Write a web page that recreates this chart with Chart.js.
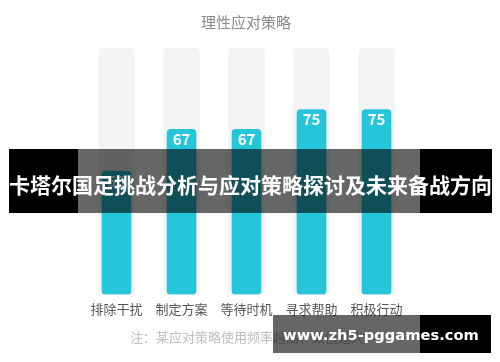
<!doctype html>
<html lang="zh">
<head>
  <meta charset="utf-8" />
  <title>理性应对策略</title>
  <script src="https://cdn.jsdelivr.net/npm/chart.js@4.4.1/dist/chart.umd.min.js"></script>
  <style>
    *{box-sizing:border-box;margin:0;padding:0}
    html,body{width:500px;height:362px;background:#fff;overflow:hidden}
    #wrap{width:500px;height:362px;position:relative}
  </style>
</head>
<body>
  <div id="wrap"><canvas id="c"></canvas></div>
  <script>
    /* ===== データ ===== */
    const categories = ['排除干扰', '制定方案', '等待时机', '寻求帮助', '积极行动'];
    const values = [50, 67, 67, 75, 75];
    const trackValues = [100, 100, 100, 100, 100];
    const titleText = '理性应对策略';
    const noteText = '注：某应对策略使用频率越高，数值越大';
    const bannerText = '卡塔尔国足挑战分析与应对策略探讨及未来备战方向';
    const watermarkText = 'www.zh5-pggames.com';

    const FONT = '"Noto Sans CJK SC","Noto Sans",sans-serif';
    const CYAN = '#26C6DA';

    /* ===== 数値ラベル + テキスト + オーバーレイ ===== */
    const decor = {
      id: 'decor',
      afterDatasetsDraw(chart){
        const ctx = chart.ctx;
        const meta = chart.getDatasetMeta(0);
        ctx.save();
        ctx.fillStyle = '#fff';
        ctx.font = 'bold 15px ' + FONT;
        ctx.textAlign = 'center';
        ctx.textBaseline = 'middle';
        meta.data.forEach((bar, i) => {
          ctx.fillText(String(values[i]), bar.x, bar.y + 10);
        });
        ctx.restore();
      },
      afterDraw(chart){
        const ctx = chart.ctx;
        ctx.save();
        ctx.textAlign = 'center';
        ctx.textBaseline = 'middle';
        // title
        ctx.fillStyle = '#8a8a8a';
        ctx.font = '15px ' + FONT;
        ctx.fillText(titleText, 246, 22);
        // note
        ctx.fillStyle = '#bdbdbd';
        ctx.font = '13px ' + FONT;
        ctx.fillText(noteText, 247, 337);

        // banner
        ctx.fillStyle = '#000';
        ctx.fillRect(9, 149, 69, 64);
        ctx.fillRect(420, 149, 72, 64);
        ctx.fillStyle = 'rgba(0,0,0,0.6)';
        ctx.fillRect(78, 149, 342, 64);
        ctx.fillStyle = '#fff';
        ctx.font = 'bold 21px ' + FONT;
        ctx.fillText(bannerText, 250.5, 185);

        // watermark
        ctx.fillStyle = 'rgba(0,0,0,0.6)';
        ctx.fillRect(273, 315, 147, 38);
        ctx.fillStyle = '#000';
        ctx.fillRect(420, 315, 71, 38);
        ctx.fillStyle = '#fff';
        let size = 20;
        ctx.font = 'bold ' + size + 'px "DejaVu Sans",sans-serif';
        size = size * 196 / ctx.measureText(watermarkText).width;
        ctx.font = 'bold ' + size.toFixed(1) + 'px "DejaVu Sans",sans-serif';
        ctx.fillText(watermarkText, 381, 336);
        ctx.restore();
      }
    };

    new Chart(document.getElementById('c'), {
      type: 'bar',
      data: {
        labels: categories,
        datasets: [
          {
            data: values,
            backgroundColor: CYAN,
            borderRadius: 4,
            borderSkipped: false,
            barThickness: 29,
            grouped: false,
            order: 1
          },
          {
            data: trackValues,
            backgroundColor: '#f4f4f4',
            borderRadius: 5,
            borderSkipped: false,
            barThickness: 36,
            grouped: false,
            order: 2
          }
        ]
      },
      options: {
        responsive: true,
        maintainAspectRatio: false,
        animation: false,
        layout: {padding: {top: 48, left: 84, right: 91, bottom: 38}},
        plugins: {legend: {display: false}, tooltip: {enabled: false}, title: {display: false}},
        scales: {
          x: {
            grid: {display: false, drawTicks: false},
            border: {display: false},
            ticks: {color: '#555', font: {size: 13, family: FONT}, padding: 7}
          },
          y: {display: false, min: 0, max: 100}
        }
      },
      plugins: [decor]
    });
  </script>
</body>
</html>
